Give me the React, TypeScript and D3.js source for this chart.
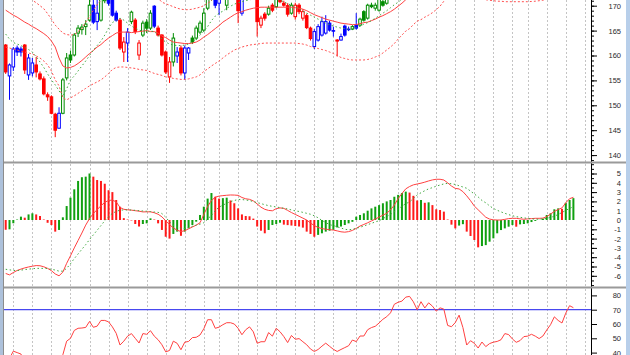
import React, { useEffect, useRef } from "react";
import * as d3 from "d3";

// daily candles, bar 0 = leftmost
const opens = [
  162.1, 155.9, 157.7, 161.5, 161.3, 162.1, 156.1, 156.5, 158.1, 156.3,
  155.3, 152.1, 151.7, 148.2, 145.4, 148.4, 155.5, 160.1, 160.1, 164.5,
  165.2, 165.8, 167.1, 170.1, 166.8, 167.1, 171.0, 172.5, 172.0, 168.5,
  167.1, 160.7, 162.5, 166.8, 167.1, 160.1, 164.1, 166.7, 165.5, 169.9,
  165.5, 164.1, 160.7, 155.7, 158.7, 159.9, 161.5, 156.5, 160.5, 163.5,
  163.5, 164.7, 165.1, 169.5, 171.3, 172.0, 170.5, 171.8, 170.1, 171.8,
  173.0, 172.8, 168.5, 172.0, 173.0, 173.5, 172.5, 166.1, 168.3, 168.3,
  170.1, 169.8, 171.6, 170.5, 170.0, 168.5, 167.8, 170.1, 167.5, 168.0,
  165.5, 161.8, 163.1, 164.1, 164.5, 166.5, 165.0, 163.1, 163.1, 165.9,
  165.3, 165.3, 166.1, 166.1, 168.8, 167.5, 170.1, 169.5, 169.1, 170.8,
  170.5, 172.0, 172.8, 174.2, 175.1, 175.6, 176.6, 177.1, 176.4, 175.9,
  177.0, 177.4, 178.0, 178.3, 177.9, 178.5, 178.2, 176.5, 176.3, 176.8,
  177.5, 176.5, 174.5, 175.0, 174.8, 174.3, 174.8, 174.5, 174.8, 175.0,
  175.1, 175.3, 176.0, 175.8, 175.4, 175.1, 175.3, 175.7, 175.8, 176.0,
  175.8, 175.6, 175.9, 176.6, 177.3, 178.5, 178.1, 177.8, 179.2, 180.6,
];
const highs = [
  162.3, 158.4, 161.7, 162.0, 161.8, 162.3, 160.3, 159.5, 159.7, 156.8,
  155.8, 152.6, 152.0, 148.5, 149.6, 155.5, 160.5, 161.0, 164.5, 166.1,
  166.3, 167.1, 171.3, 171.5, 172.0, 172.0, 173.0, 173.0, 173.0, 169.0,
  167.5, 163.7, 165.5, 169.0, 167.5, 163.1, 167.0, 167.3, 169.1, 170.1,
  166.0, 164.3, 161.0, 159.7, 164.5, 161.7, 162.0, 162.0, 161.7, 164.0,
  166.0, 167.0, 169.5, 172.0, 173.0, 172.5, 172.5, 173.0, 172.0, 173.5,
  174.0, 173.2, 172.5, 173.5, 174.0, 174.0, 173.0, 168.0, 168.7, 170.0,
  170.5, 172.0, 172.2, 171.0, 170.5, 170.6, 170.6, 170.5, 169.3, 168.4,
  165.8, 165.3, 166.3, 167.8, 168.1, 167.0, 165.8, 163.3, 164.4, 166.2,
  165.8, 166.1, 168.5, 167.6, 169.1, 170.4, 170.6, 170.6, 172.0, 171.5,
  172.5, 173.3, 174.6, 175.6, 176.0, 177.0, 177.6, 177.4, 176.8, 177.3,
  177.9, 178.4, 178.8, 178.6, 178.9, 178.9, 178.4, 176.9, 177.2, 177.9,
  177.7, 176.6, 175.4, 175.5, 175.1, 175.2, 175.1, 175.2, 175.4, 175.5,
  175.7, 176.3, 176.4, 176.1, 175.7, 175.7, 176.0, 176.2, 176.4, 176.3,
  176.1, 176.3, 177.0, 177.7, 178.9, 178.8, 178.4, 179.6, 181.0, 181.2,
];
const lows = [
  156.3, 151.1, 156.9, 159.9, 159.8, 156.3, 155.1, 155.8, 155.6, 155.0,
  152.0, 150.9, 148.2, 143.6, 145.3, 148.2, 155.0, 158.5, 159.8, 163.7,
  164.2, 164.1, 166.8, 166.3, 165.1, 166.8, 170.5, 170.0, 167.8, 166.8,
  161.1, 158.7, 158.7, 166.3, 164.3, 159.1, 163.7, 164.5, 165.1, 165.5,
  163.8, 159.8, 156.3, 154.5, 157.8, 158.5, 156.0, 155.1, 159.1, 162.3,
  163.1, 164.3, 164.7, 169.1, 171.0, 169.5, 168.1, 171.3, 169.1, 171.2,
  172.5, 166.5, 168.0, 171.6, 172.5, 172.6, 163.8, 165.5, 167.0, 168.0,
  168.7, 169.5, 170.5, 169.8, 167.8, 168.2, 167.2, 168.3, 167.0, 165.3,
  163.0, 161.3, 162.8, 163.8, 164.2, 164.8, 163.8, 159.8, 163.0, 163.8,
  164.9, 165.1, 165.2, 165.8, 166.8, 167.2, 169.5, 169.0, 168.8, 169.8,
  170.2, 171.6, 172.5, 173.8, 174.7, 175.2, 176.2, 176.0, 175.4, 175.6,
  176.6, 177.0, 177.6, 177.4, 177.6, 177.8, 176.2, 175.8, 175.9, 176.5,
  176.1, 174.1, 173.9, 174.3, 173.7, 173.9, 174.0, 174.1, 174.4, 174.6,
  174.8, 175.0, 175.4, 175.0, 174.6, 174.8, 175.0, 175.3, 175.4, 175.4,
  175.2, 175.3, 175.6, 176.3, 177.0, 177.7, 177.4, 177.6, 179.0, 180.1,
];
const closes = [
  156.7, 158.1, 161.3, 160.7, 160.7, 157.1, 159.5, 158.5, 156.7, 155.3,
  152.3, 151.7, 148.4, 145.0, 148.4, 155.1, 159.5, 159.1, 164.1, 165.5,
  165.7, 166.3, 170.1, 166.7, 168.5, 171.3, 172.5, 170.5, 168.1, 167.1,
  161.5, 162.7, 164.7, 168.7, 164.8, 162.5, 166.5, 165.5, 168.5, 165.9,
  164.1, 160.1, 156.7, 158.7, 163.5, 160.7, 156.5, 161.5, 161.5, 162.7,
  165.5, 166.5, 168.5, 171.3, 172.5, 170.1, 172.0, 172.5, 171.5, 173.0,
  173.5, 169.0, 172.0, 173.0, 173.5, 173.0, 166.8, 167.5, 167.5, 169.5,
  169.1, 171.3, 170.8, 170.1, 168.3, 170.1, 170.1, 168.8, 168.8, 165.6,
  163.4, 164.8, 165.8, 166.8, 166.8, 165.1, 164.9, 162.9, 163.8, 164.1,
  165.2, 165.8, 165.5, 167.3, 167.1, 170.1, 169.8, 170.1, 171.3, 170.1,
  172.0, 172.8, 174.2, 175.1, 175.6, 176.6, 177.1, 176.4, 175.9, 177.0,
  177.4, 178.0, 178.3, 177.9, 178.5, 178.2, 176.5, 176.3, 176.8, 177.5,
  176.5, 174.5, 175.0, 174.8, 174.3, 174.8, 174.5, 174.8, 175.0, 175.1,
  175.3, 176.0, 175.8, 175.4, 175.1, 175.3, 175.7, 175.8, 176.0, 175.8,
  175.6, 175.9, 176.6, 177.3, 178.5, 178.1, 177.8, 179.2, 180.6, 180.5,
];
// trend state per candle: d = down, n = neutral, u = up
const tones = (
  "dnnnndnndd" + "ddddnuuuuu" + "uuunnuunnn" + "ddnudduuun" + "ddddundnnu" +
  "uuuuunnuuu" + "udnuundddu" + "dudddudddd" + "dnnnnnndnn" + "nunuuuuuuu" +
  "uuuuuuunnu" + "uuununddnn" + "ddnddndnnn" + "nunddnuuun" + "nuuuunnuuu"
).split("");

const bandMid = [
  169.1, 168.6, 168.1, 167.7, 167.2, 166.7, 166.3, 165.8, 165.4, 164.9,
  164.4, 163.8, 162.9, 161.7, 159.5, 157.9, 157.5, 157.6, 157.9, 158.4,
  159.0, 159.7, 160.4, 161.0, 161.7, 162.2, 162.9, 163.5, 164.0, 164.5,
  164.7, 164.7, 164.7, 164.6, 164.7, 164.8, 164.9, 165.0, 164.8, 164.8,
  164.5, 163.9, 163.6, 163.1, 162.7, 162.6, 162.5, 162.4, 162.4, 162.5,
  162.7, 163.1, 163.7, 164.2, 164.8, 165.4, 166.0, 166.7, 167.2, 167.7,
  168.2, 168.6, 168.8, 169.1, 169.3, 169.5, 169.6, 169.7, 169.7, 169.7,
  169.7, 169.7, 169.7, 169.7, 169.7, 169.7, 169.6, 169.5, 169.3, 169.0,
  168.6, 168.2, 167.9, 167.6, 167.3, 167.1, 166.9, 166.7, 166.5, 166.4,
  166.3, 166.2, 166.2, 166.4, 166.6, 166.7, 167.0, 167.3, 167.7, 168.0,
  168.4, 168.8, 169.3, 169.9, 170.5, 171.2, 171.8, 172.3, 172.8, 173.2,
  173.6, 174.0, 174.4, 174.8, 175.1, 175.4, 175.6, 175.8, 176.0, 176.1,
  176.2, 176.2, 176.2, 176.1, 176.0, 175.9, 175.8, 175.7, 175.6, 175.5,
  175.4, 175.4, 175.4, 175.4, 175.4, 175.4, 175.4, 175.4, 175.4, 175.4,
  175.5, 175.6, 175.7, 175.8, 176.0, 176.2, 176.3, 176.5, 176.8, 177.1,
];
const bandUpper = [
  176.5, 175.7, 174.9, 174.3, 173.5, 172.7, 172.1, 171.1, 170.6, 170.0,
  169.4, 168.4, 167.3, 166.1, 165.3, 164.5, 164.2, 164.1, 164.2, 164.8,
  165.4, 166.7, 167.8, 169.1, 170.2, 171.1, 172.2, 173.2, 174.0, 174.6,
  175.0, 175.0, 174.9, 174.7, 174.4, 174.0, 173.6, 173.1, 172.6, 172.0,
  171.5, 170.7, 170.4, 170.1, 169.8, 169.5, 169.3, 169.2, 169.2, 169.3,
  169.5, 169.7, 170.0, 170.5, 171.0, 172.3, 173.2, 174.0, 174.6, 175.1,
  175.5, 175.9, 176.2, 176.5, 176.7, 176.8, 176.9, 176.9, 176.9, 176.9,
  176.9, 176.9, 176.9, 176.9, 176.9, 176.9, 176.8, 176.6, 176.3, 175.9,
  175.4, 174.9, 174.5, 174.1, 173.7, 173.5, 173.4, 173.4, 173.4, 173.4,
  173.4, 173.4, 173.4, 173.7, 174.0, 174.2, 174.5, 174.8, 175.2, 175.5,
  175.8, 176.0, 176.3, 176.6, 176.9, 177.5, 178.0, 178.5, 179.0, 179.3,
  179.5, 179.7, 179.8, 179.9, 179.9, 179.9, 179.9, 179.9, 179.9, 179.9,
  179.9, 180.0, 180.1, 180.2, 180.3, 180.5, 180.4, 180.3, 180.2, 180.1,
  179.9, 179.9, 179.9, 179.9, 180.0, 180.0, 180.0, 180.0, 180.0, 180.0,
  180.0, 180.0, 180.1, 180.1, 180.2, 180.3, 180.3, 180.4, 180.5, 180.6,
];
const bandLower = [
  161.7, 161.5, 161.3, 161.1, 160.9, 160.7, 160.5, 160.3, 159.9, 159.5,
  158.9, 158.1, 156.9, 155.1, 153.9, 151.5, 151.1, 151.5, 151.9, 152.4,
  152.9, 153.4, 153.9, 154.3, 154.7, 155.1, 155.7, 156.4, 157.2, 157.6,
  157.7, 157.7, 157.6, 157.5, 157.4, 157.2, 157.1, 157.0, 156.7, 156.4,
  156.2, 156.0, 155.7, 155.6, 155.4, 155.3, 155.2, 155.2, 155.3, 155.5,
  155.7, 156.1, 156.8, 157.3, 157.9, 158.4, 158.9, 159.5, 160.1, 160.6,
  161.1, 161.4, 161.7, 161.9, 162.1, 162.2, 162.3, 162.4, 162.5, 162.5,
  162.5, 162.5, 162.5, 162.5, 162.5, 162.5, 162.5, 162.4, 162.3, 162.1,
  161.8, 161.6, 161.4, 161.2, 161.0, 160.7, 160.4, 160.0, 159.6, 159.4,
  159.2, 159.1, 159.1, 159.1, 159.1, 159.2, 159.4, 159.7, 160.0, 160.5,
  161.1, 161.7, 162.4, 163.3, 164.1, 164.9, 165.4, 166.2, 166.9, 167.2,
  167.7, 168.1, 168.6, 169.2, 169.9, 170.9, 171.7, 172.2, 172.5, 172.6,
  172.5, 172.3, 172.0, 171.7, 171.5, 171.3, 171.2, 171.1, 171.0, 170.9,
  170.9, 170.8, 170.8, 170.8, 170.8, 170.8, 170.8, 170.8, 170.85, 170.9,
  171.0, 171.1, 171.3, 171.5, 171.8, 172.1, 172.4, 172.8, 173.2, 173.6,
];
const shortAvg = [
  164.3, 163.3, 162.6, 162.3, 162.0, 161.6, 161.2, 160.7, 159.8, 158.7,
  157.6, 156.3, 155.1, 154.1, 152.9, 151.8, 153.3, 155.1, 155.9, 156.9,
  157.9, 158.9, 160.0, 161.1, 162.0, 162.9, 164.1, 165.5, 166.6, 167.1,
  167.5, 167.1, 166.5, 165.9, 165.5, 165.1, 164.9, 164.9, 164.9, 164.8,
  164.1, 163.3, 162.7, 162.3, 162.1, 162.0, 162.0, 162.1, 162.3, 162.8,
  163.3, 164.1, 164.9, 165.8, 167.0, 167.9, 168.5, 168.9, 169.5, 169.9,
  170.3, 170.6, 170.8, 171.0, 171.2, 171.3, 171.3, 171.4, 171.6, 171.6,
  171.5, 171.4, 171.1, 170.8, 170.4, 170.1, 169.8, 169.3, 168.9, 168.5,
  168.1, 167.7, 167.3, 166.9, 166.5, 166.2, 165.9, 165.7, 165.5, 165.4,
  165.3, 165.4, 165.6, 165.9, 166.3, 166.6, 167.0, 167.5, 168.0, 168.5,
  169.0, 169.6, 170.2, 170.7, 171.3, 172.2, 173.0, 173.7, 174.3, 174.9,
  175.5, 176.0, 176.5, 176.9, 177.3, 177.6, 177.6, 177.5, 177.4, 177.3,
  177.2, 176.8, 176.4, 176.0, 175.6, 175.3, 175.0, 174.9, 174.8, 174.8,
  174.9, 175.1, 175.2, 175.3, 175.3, 175.4, 175.5, 175.5, 175.6, 175.6,
  175.6, 175.7, 175.8, 176.0, 176.3, 176.6, 176.9, 177.3, 177.8, 178.3,
];

const macdLine = [
  -5.75, -5.9, -5.65, -5.43, -5.28, -5.15, -5.05, -4.97, -4.9, -4.92,
  -5.03, -5.2, -5.45, -5.8, -6.0, -5.6, -4.66, -3.85, -3.0, -2.2,
  -1.4, -0.55, 0.15, 0.7, 1.12, 1.53, 1.9, 2.1, 2.14, 1.95,
  1.35, 1.15, 1.1, 1.06, 1.0, 0.95, 0.87, 0.88, 0.88, 0.78,
  0.62, 0.34, -0.08, -0.5, -0.85, -1.1, -1.24, -1.15, -0.95, -0.75,
  -0.55, -0.3, 0.6, 1.45, 2.1, 2.45, 2.57, 2.62, 2.66, 2.69,
  2.68, 2.65, 2.42, 2.28, 2.22, 2.05, 1.73, 1.38, 1.15, 1.03,
  0.99, 1.22, 1.3, 1.25, 1.03, 0.8, 0.6, 0.4, 0.2, 0.0,
  -0.33, -0.6, -0.8, -0.93, -0.99, -1.04, -1.08, -1.17, -1.27, -1.31,
  -1.25, -1.12, -0.9, -0.65, -0.48, -0.3, -0.1, 0.1, 0.31, 0.52,
  0.72, 1.1, 1.6, 2.3, 2.85, 3.35, 3.6, 3.78, 3.87, 3.96,
  4.07, 4.2, 4.31, 4.38, 4.38, 4.3, 4.0, 3.65, 3.4, 3.34,
  3.05, 2.6, 2.08, 1.5, 1.1, 0.7, 0.3, 0.1, 0.02, 0.0,
  0.0, 0.07, 0.15, 0.18, 0.18, 0.12, 0.08, 0.12, 0.15, 0.18,
  0.18, 0.2, 0.36, 0.64, 0.92, 1.13, 1.3, 1.85, 2.29, 2.44,
];
const macdSignal = [
  -5.3, -5.36, -5.42, -5.44, -5.39, -5.33, -5.28, -5.24, -5.2, -5.2,
  -5.2, -5.22, -5.3, -5.38, -5.5, -5.5, -5.2, -4.7, -4.15, -3.65,
  -3.15, -2.65, -2.1, -1.6, -1.1, -0.6, -0.08, 0.35, 0.72, 0.92,
  1.06, 1.08, 1.08, 1.07, 1.04, 1.0, 0.97, 0.94, 0.9, 0.86,
  0.82, 0.7, 0.3, -0.2, -0.55, -0.75, -0.9, -0.92, -0.82, -0.68,
  -0.55, -0.45, -0.3, 0.1, 0.5, 1.0, 1.38, 1.6, 1.8, 1.98,
  2.1, 2.2, 2.2, 2.15, 2.09, 1.98, 1.87, 1.76, 1.65, 1.54,
  1.47, 1.4, 1.33, 1.26, 1.19, 1.08, 0.98, 0.92, 0.82, 0.72,
  0.62, 0.45, 0.24, -0.05, -0.27, -0.5, -0.6, -0.73, -0.86, -1.0,
  -1.05, -1.0, -0.9, -0.78, -0.65, -0.5, -0.36, -0.21, -0.08, 0.15,
  0.36, 0.6, 0.88, 1.15, 1.5, 1.75, 1.95, 2.3, 2.7, 2.93,
  3.15, 3.35, 3.48, 3.64, 3.76, 3.88, 3.94, 3.9, 3.82, 3.68,
  3.55, 3.41, 3.1, 2.8, 2.48, 2.1, 1.85, 1.52, 1.24, 1.05,
  0.87, 0.72, 0.58, 0.46, 0.36, 0.29, 0.23, 0.17, 0.12, 0.09,
  0.08, 0.12, 0.18, 0.28, 0.4, 0.6, 0.8, 1.04, 1.24, 1.43,
];
const macdHist = [
  -1.05, -1.0, -0.35, 0.05, 0.36, 0.25, 0.6, 0.72, 0.6, 0.43,
  0.05, -0.3, -0.54, -1.25, -1.07, 0.29, 1.5, 2.4, 3.3, 4.2,
  4.6, 4.66, 5.0, 4.66, 4.3, 4.2, 3.9, 3.2, 3.0, 2.15,
  1.43, 0.2, 0.05, -0.05, -0.43, -0.7, -0.43, -0.36, 0.18, 0.05,
  -0.36, -1.07, -1.8, -2.0, -1.5, -1.25, -1.7, -1.25, -0.9, -0.54,
  -0.18, 0.54, 1.43, 2.3, 2.9, 2.5, 2.3, 2.35, 2.4, 2.1,
  1.8, 1.25, 0.6, 0.43, 0.4, 0.15, -0.7, -1.15, -1.43, -1.07,
  -0.54, -0.43, -0.29, -0.5, -0.55, -0.6, -0.65, -0.7, -0.82, -1.25,
  -1.5, -1.8, -1.6, -1.43, -1.25, -1.15, -1.07, -0.8, -0.7, -0.54,
  -0.36, -0.2, 0.36, 0.54, 0.72, 1.0, 1.25, 1.43, 1.6, 1.8,
  2.0, 2.15, 2.5, 2.7, 2.9, 3.05, 2.95, 2.6, 2.1, 2.15,
  1.85, 1.9, 1.6, 1.15, 1.07, 0.9, 0.05, -0.5, -0.9, -0.6,
  -0.45, -1.25, -1.72, -2.15, -2.94, -2.8, -2.7, -2.33, -1.97, -1.43,
  -1.08, -0.9, -0.72, -0.54, -0.72, -0.47, -0.43, -0.36, -0.22, -0.1,
  0.02, 0.15, 0.54, 0.72, 1.15, 1.25, 1.2, 1.85, 2.15, 2.35,
];

const rsi = [
  30, 36, 41, 40, 39, 33, 37, 36, 33, 31,
  27, 26, 23, 20, 30, 38.5, 48, 50, 55.5, 57,
  57.2, 57.6, 61.8, 57.7, 58.5, 62.5, 62.5, 61.5, 58, 53.5,
  45.3, 48, 51.5, 53.3, 50, 46.7, 53.3, 52.8, 55.3, 51.5,
  49, 45.5, 40.5, 41.5, 48, 46.5, 42, 47.3, 47.8, 50.5,
  50.7, 52.3, 56.7, 63, 63, 57, 57.8, 59.5, 60.9, 60.9,
  60, 57, 52.5, 56, 58, 54.5, 46.5, 47.6, 47.6, 54,
  51.5, 57, 54.6, 51.2, 47, 52, 49.3, 49.8, 47.6, 45.5,
  42.5, 40.8, 42.2, 44.5, 46.6, 44.4, 42.3, 40.8, 42.2, 43.5,
  44.8, 48.8, 47.7, 51.6, 51.6, 56, 57.5, 58.4, 60.7, 63.3,
  65.1, 67.8, 73.8, 75.2, 76, 78.8, 79.3, 75.5, 70, 75.6,
  71.2, 74.8, 72.5, 69, 71.3, 70.4, 59, 58.1, 61, 66.2,
  57.5, 45.3, 48.3, 46.5, 43.2, 47.4, 44.2, 46.3, 47.3, 47.8,
  49, 53.3, 52.6, 49.5, 47.2, 48.4, 51.2, 51.5, 52.8, 51.5,
  49.8, 51.6, 55.8, 59.5, 65, 62.5, 60.7, 67.6, 72.8, 71.4,
];

// bars that open a new week (vertical grid)
const weekStarts = [
  2, 7, 12, 17, 22, 27, 32, 37, 42, 47, 52, 56, 61, 66, 71, 76, 81, 86, 92,
  98, 103, 108, 113, 118, 123, 128, 133, 137, 142, 147, 152,
];
const priceTicks = [140, 145, 150, 155, 160, 165, 170];
const macdTicks = [5, 4, 3, 2, 1, 0, -1, -2, -3, -4, -5, -6];
const rsiTicks = [80, 70, 60, 50, 40];
const rsiLevel = 70;

const W = 630;
const H = 355;
const AXIS_X = 591;

export default function App() {
  const svgRef = useRef(null);

  useEffect(() => {
    document.body.style.margin = "0";
    const svg = d3.select(svgRef.current);
    svg.selectAll("*").remove();

    const n = closes.length;
    const x = d3.scaleLinear().domain([0, 149]).range([5.7, 573.4]);
    const yPrice = d3.scaleLinear().domain([140, 170]).range([155.1, 5.7]);
    const yMacd = d3.scaleLinear().domain([-6, 5]).range([275.8, 173.5]);
    const yRsi = d3.scaleLinear().domain([40, 80]).range([352.6, 295.4]);

    const panels = {
      price: [0, 161.5],
      macd: [163.5, 286.5],
      rsi: [288.5, 355],
    };

    const defs = svg.append("defs");
    Object.entries(panels).forEach(([key, [y0, y1]]) => {
      defs
        .append("clipPath")
        .attr("id", `clip-${key}`)
        .append("rect")
        .attr("x", 4)
        .attr("y", y0)
        .attr("width", AXIS_X - 4)
        .attr("height", y1 - y0);
    });

    svg.append("rect").attr("width", W).attr("height", H).attr("fill", "#fff");

    // week grid
    const grid = svg
      .append("g")
      .attr("stroke", "#c4c4c4")
      .attr("stroke-dasharray", "2,2")
      .attr("shape-rendering", "crispEdges");
    Object.values(panels).forEach(([y0, y1]) => {
      grid
        .append("g")
        .selectAll("line")
        .data(weekStarts.filter((d) => x(d) < AXIS_X))
        .join("line")
        .attr("x1", (d) => Math.round(x(d)) + 0.5)
        .attr("x2", (d) => Math.round(x(d)) + 0.5)
        .attr("y1", y0)
        .attr("y2", y1);
    });

    // price panel
    const pg = svg.append("g").attr("clip-path", "url(#clip-price)");
    const toneColor = { d: "#ff0000", n: "#0000ff", u: "#008c00" };
    const idx = d3.range(n);

    pg.append("g")
      .selectAll("line")
      .data(idx)
      .join("line")
      .attr("x1", (i) => x(i))
      .attr("x2", (i) => x(i))
      .attr("y1", (i) => yPrice(highs[i]))
      .attr("y2", (i) => yPrice(lows[i]))
      .attr("stroke", (i) => toneColor[tones[i]])
      .attr("stroke-width", 1);

    pg.append("g")
      .selectAll("rect")
      .data(idx)
      .join("rect")
      .attr("x", (i) => x(i) - 1.3)
      .attr("width", 2.6)
      .attr("y", (i) => yPrice(Math.max(opens[i], closes[i])))
      .attr("height", (i) =>
        Math.max(0.6, Math.abs(yPrice(opens[i]) - yPrice(closes[i])))
      )
      .attr("fill", (i) =>
        closes[i] < opens[i] ? toneColor[tones[i]] : "#fff"
      )
      .attr("stroke", (i) => toneColor[tones[i]])
      .attr("stroke-width", 1);

    const priceLine = d3
      .line()
      .x((d, i) => x(i))
      .y((d) => yPrice(d));

    pg.append("path")
      .attr("d", priceLine(bandUpper))
      .attr("fill", "none")
      .attr("stroke", "#ff5050")
      .attr("stroke-dasharray", "2,2");
    pg.append("path")
      .attr("d", priceLine(bandLower))
      .attr("fill", "none")
      .attr("stroke", "#ff5050")
      .attr("stroke-dasharray", "2,2");
    pg.append("path")
      .attr("d", priceLine(bandMid))
      .attr("fill", "none")
      .attr("stroke", "#ff4040");
    pg.append("path")
      .attr("d", priceLine(shortAvg))
      .attr("fill", "none")
      .attr("stroke", "#40a840")
      .attr("stroke-dasharray", "1.5,2.5");

    // macd panel
    const mg = svg.append("g").attr("clip-path", "url(#clip-macd)");
    mg.append("g")
      .selectAll("rect")
      .data(macdHist)
      .join("rect")
      .attr("x", (d, i) => x(i) - 1)
      .attr("width", 2)
      .attr("y", (d) => yMacd(Math.max(0, d)))
      .attr("height", (d) => Math.abs(yMacd(d) - yMacd(0)))
      .attr("fill", (d, i) =>
        i > 0 && d > macdHist[i - 1] ? "#10a010" : "#ff1a1a"
      );

    const macdPath = d3
      .line()
      .x((d, i) => x(i))
      .y((d) => yMacd(d));
    mg.append("path")
      .attr("d", macdPath(macdLine))
      .attr("fill", "none")
      .attr("stroke", "#ff4040");
    mg.append("path")
      .attr("d", macdPath(macdSignal))
      .attr("fill", "none")
      .attr("stroke", "#40a840")
      .attr("stroke-dasharray", "1.5,2.5");

    // rsi panel
    const rg = svg.append("g").attr("clip-path", "url(#clip-rsi)");
    rg.append("line")
      .attr("x1", 4)
      .attr("x2", AXIS_X)
      .attr("y1", yRsi(rsiLevel))
      .attr("y2", yRsi(rsiLevel))
      .attr("stroke", "#4848f0")
      .attr("stroke-width", 1.2);
    rg.append("path")
      .attr(
        "d",
        d3
          .line()
          .x((d, i) => x(i))
          .y((d) => yRsi(d))(rsi)
      )
      .attr("fill", "none")
      .attr("stroke", "#ff4040");

    // axes (font set after the axis call, which would reset it)
    const drawAxis = (scale, major, minor) => {
      if (minor.length) {
        svg
          .append("g")
          .attr("transform", `translate(${AXIS_X},0)`)
          .call(d3.axisRight(scale).tickValues(minor).tickSize(3))
          .call((g) => g.select(".domain").remove())
          .call((g) => g.selectAll("text").remove());
      }
      svg
        .append("g")
        .attr("transform", `translate(${AXIS_X},0)`)
        .call(
          d3
            .axisRight(scale)
            .tickValues(major)
            .tickSize(6)
            .tickFormat((d) => String(d))
        )
        .attr("font-family", "'Liberation Sans', Arial, sans-serif")
        .attr("font-size", 7.5)
        .call((g) => g.select(".domain").remove())
        .call((g) =>
          g
            .selectAll("text")
            .attr("x", 30)
            .attr("text-anchor", "end")
            .attr("fill", "#2a2a2a")
        );
    };
    drawAxis(yPrice, priceTicks, d3.range(139, 172, 1));
    drawAxis(yMacd, macdTicks, d3.range(-7, 6.5, 0.5));
    drawAxis(yRsi, rsiTicks, []);

    svg
      .append("line")
      .attr("x1", AXIS_X + 0.5)
      .attr("x2", AXIS_X + 0.5)
      .attr("y1", 0)
      .attr("y2", H)
      .attr("stroke", "#000");

    // panel separators
    [162.5, 287.5].forEach((y) => {
      svg
        .append("line")
        .attr("x1", 3)
        .attr("x2", 626)
        .attr("y1", y)
        .attr("y2", y)
        .attr("stroke", "#9a9a9a")
        .attr("stroke-width", 2);
    });

    // window edges
    svg.append("rect").attr("x", 0).attr("y", 0).attr("width", 3).attr("height", H).attr("fill", "#adc1db");
    svg.append("rect").attr("x", 3).attr("y", 0).attr("width", 1).attr("height", H).attr("fill", "#8c8c8c");
    svg.append("rect").attr("x", 626).attr("y", 0).attr("width", 4).attr("height", H).attr("fill", "#b8cfea");
  }, []);

  return (
    <svg
      ref={svgRef}
      width={W}
      height={H}
      style={{ display: "block", background: "#fff" }}
    />
  );
}
